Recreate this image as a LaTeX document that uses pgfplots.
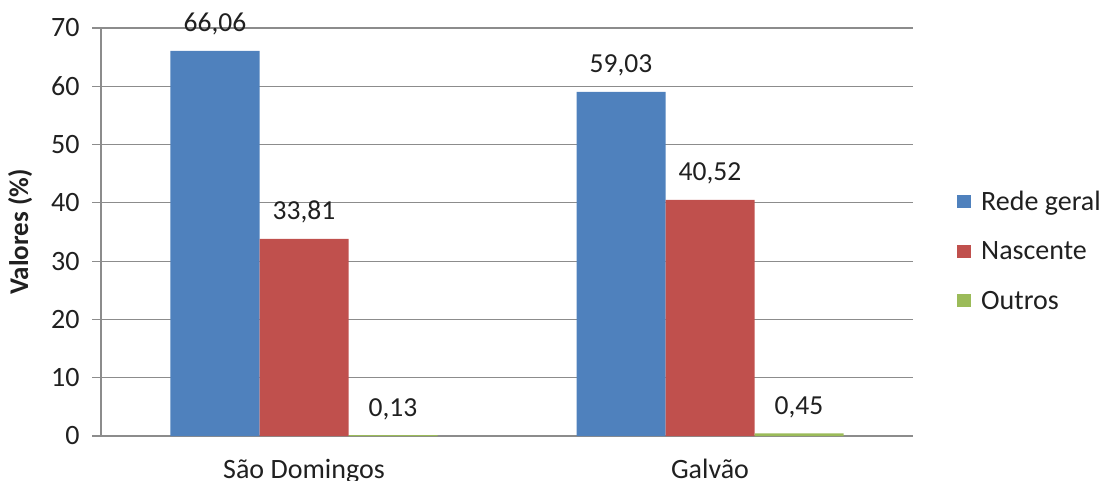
\documentclass[border=0pt]{standalone}
\usepackage{pgfplots}
\pgfplotsset{compat=1.18}
\usepackage{fontspec}
\setmainfont{Carlito}
\definecolor{barblue}{HTML}{4F81BD}
\definecolor{barred}{HTML}{C0504D}
\definecolor{bargreen}{HTML}{9BBB59}
\definecolor{gridgray}{HTML}{8C8C8C}
\definecolor{txt}{HTML}{202020}

\pgfplotsset{
  sqlegend/.style={legend image code/.code={
      \fill[##1,draw=none] (0bp,-5bp) rectangle (14bp,8bp);
      \path (22bp,0bp);}},
}

\begin{document}
\fontsize{28bp}{33bp}\selectfont
\begin{tikzpicture}
\begin{axis}[
  scale only axis,
  width=812bp, height=408bp,
  ymin=0, ymax=70, ytick={0,10,...,70},
  xmin=-0.5, xmax=1.5,
  xtick={0,1}, xticklabels={São Domingos, Galvão},
  ybar=0pt, bar width=89bp,
  axis lines*=left,
  axis line style={gridgray, line width=1.2bp, -},
  ymajorgrids, grid style={gridgray, line width=1.2bp},
  ytick style={gridgray, line width=1.2bp},
  major tick length=9bp, tick align=outside,
  xtick style={draw=none},
  ytick pos=left,
  tick label style={text=txt, font=\fontsize{28bp}{33bp}\selectfont},
  /pgf/number format/assume math mode=true,
  yticklabel style={xshift=-3bp},
  xticklabel style={yshift=-5bp},
  ylabel={Valores (\%)},
  ylabel style={font=\fontsize{27bp}{32bp}\selectfont\bfseries, text=txt},
  nodes near coords,
  every node near coord/.append style={
    font=\fontsize{27.5bp}{32bp}\selectfont, text=txt,
    anchor=south, yshift=6bp,
    /pgf/number format/.cd, use comma, fixed, fixed zerofill, precision=2},
  legend style={
    at={(rel axis cs:1,0.45)}, anchor=west, xshift=44bp,
    draw=none, fill=none, inner sep=0pt,
    row sep=23bp, font=\fontsize{28bp}{33bp}\selectfont, text=txt,
  },
  legend cell align=left,
  clip=false,
]
\addplot[fill=barblue, draw=none, sqlegend] coordinates {(0,66.06) (1,59.03)};
\addplot[fill=barred, draw=none, sqlegend] coordinates {(0,33.81) (1,40.52)};
\addplot[fill=bargreen, draw=none, sqlegend] coordinates {(0,0.13) (1,0.45)};
\legend{Rede geral, Nascente, Outros}
\coordinate (O) at (rel axis cs:0,0);
\end{axis}
\pgfresetboundingbox
\path (O) ++(-101bp,-45bp) rectangle ++(1106bp,481bp);
\end{tikzpicture}
\end{document}
